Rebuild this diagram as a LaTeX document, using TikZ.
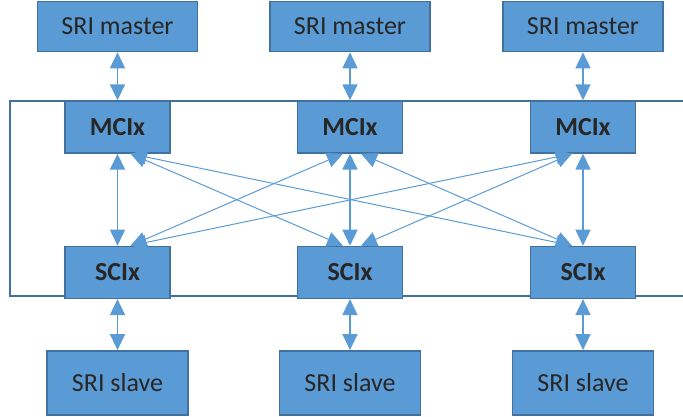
\documentclass[tikz,border=0pt]{standalone}
\usepackage{fontspec}
\setmainfont{Carlito}
\usetikzlibrary{positioning,arrows.meta}
\definecolor{boxblue}{HTML}{5B9BD5}
\definecolor{edgeblue}{HTML}{41719C}
\tikzset{
    sri/.style={>={Triangle[length=16pt,width=15pt]},shorten >=0pt,shorten <=0pt},
    unit/.style={rectangle,draw=edgeblue,fill=boxblue,line width=1.4pt,inner sep=0pt,
                    text=black!85,font=\fontsize{26}{30}\selectfont},
    core/.style={unit,minimum width=105pt,minimum height=52pt,font=\fontsize{26}{30}\selectfont\bfseries},
    master/.style={unit,minimum width=160pt,minimum height=50pt},
    slave/.style={unit,minimum width=141pt,minimum height=64pt},
    link/.style={<->,draw=boxblue,line width=1.6pt},
    cross/.style={<->,draw=boxblue,line width=1pt},
    frame/.style={draw=edgeblue,line width=2pt},
    }
\begin{document}
\begin{tikzpicture}[sri,x=1pt,y=-1pt]
            \useasboundingbox (0,0) rectangle (683,417);
            \draw[frame] (690,101) -| (10,296) -- (690,296);

            \node[core] (mci1) at (117.5,127) {MCIx};
            \node[core] (mci2) at (350,127) {MCIx};
            \node[core] (mci3) at (583,127) {MCIx};
            \node[master] (m1) [above=48pt of mci1] {SRI master};
            \node[master] (m2) [above=48pt of mci2] {SRI master};
            \node[master] (m3) [above=48pt of mci3] {SRI master};
            \node[core] (sci1) [below=92pt of mci1] {SCIx};
            \node[core] (sci2) [below=92pt of mci2] {SCIx};
            \node[core] (sci3) [below=92pt of mci3] {SCIx};
            \node[slave] (s1) [below=51pt of sci1] {SRI slave};
            \node[slave] (s2) [below=51pt of sci2] {SRI slave};
            \node[slave] (s3) [below=51pt of sci3] {SRI slave};

            \foreach \i in {1,2,3} {
                \draw[link] (m\i) -- (mci\i);
                \draw[link] (mci\i) -- (sci\i);
                \draw[link] (sci\i) -- (s\i);
            }
            \draw[cross] ([xshift=13pt]mci1.south) -- ([xshift=-7pt]sci2.north);
            \draw[cross] ([xshift=13pt]mci1.south) -- ([xshift=-11pt]sci3.north);
            \draw[cross] ([xshift=-7pt]mci2.south) -- ([xshift=13pt]sci1.north);
            \draw[cross] ([xshift=11pt]mci2.south) -- ([xshift=-11pt]sci3.north);
            \draw[cross] ([xshift=-11pt]mci3.south) -- ([xshift=13pt]sci1.north);
            \draw[cross] ([xshift=-11pt]mci3.south) -- ([xshift=11pt]sci2.north);
        \end{tikzpicture}
\end{document}
